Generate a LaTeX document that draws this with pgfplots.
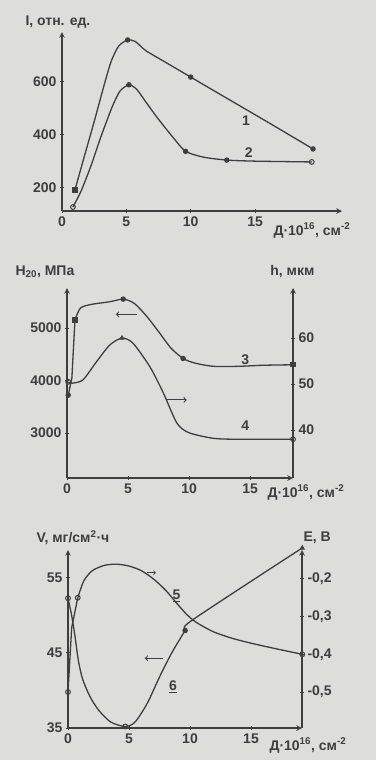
\documentclass[border=0pt]{standalone}
\usepackage{fontspec}
\setmainfont{Liberation Sans}
\usepackage{pgfplots}
\pgfplotsset{compat=1.18}

\definecolor{bg}{RGB}{221,221,217}
\definecolor{ink}{RGB}{62,62,62}

\pgfplotsset{
  scan/.style={
    scale only axis, clip=false,
    axis line style={ink, line width=1.5pt, -},
    tick style={ink, line width=1pt}, tick align=outside, major tick length=4pt,
    ticklabel style={font=\fontsize{14}{16}\selectfont\bfseries, text=ink},
    /pgf/number format/assume math mode=true,
    /pgf/number format/use comma,
    /pgf/number format/1000 sep={},
    every axis plot/.append style={ink, line width=1.3pt},
  },
  pts/.style={only marks, mark size=2.2pt, mark options={ink, fill=ink, line width=1pt}},
  opn/.style={only marks, mark=o, mark size=2.4pt, mark options={ink, fill=bg, line width=1pt}},
}
\newcommand{\lab}{\fontsize{14}{16}\selectfont\bfseries\color{ink}}

\begin{document}
\begin{tikzpicture}
\fill[bg] (0pt,0pt) rectangle (376pt,-760pt);
\useasboundingbox (0pt,0pt) rectangle (376pt,-760pt);

% ---- panel 1: I vs D
\begin{axis}[scan, at={(62pt,-211pt)}, anchor=south west, width=280pt, height=179pt,
  xmin=0, xmax=21.75, ymin=113, ymax=788,
  axis x line=bottom, axis y line=left,
  xtick={0,5,10,15}, ytick={200,400,600}]
\addplot[smooth, tension=0.4] coordinates {(1.0,192) (1.8,330) (2.5,450) (3.2,575) (3.8,675) (4.4,735) (5.1,758) (5.7,752) (6.5,718) (8,675) (10,618) (12,561) (15,476) (17,419) (19.5,347)};
\addplot[smooth, tension=0.4] coordinates {(0.85,128) (1.5,190) (2.3,290) (3.0,390) (3.9,506) (4.5,565) (5.2,589) (5.8,572) (6.5,525) (7.4,465) (8.6,392) (9.6,338) (11,316) (12.8,305) (15,301) (19.4,298)};
\addplot[pts, mark=square*] coordinates {(1.0,192)};
\addplot[pts, mark=*] coordinates {(5.1,758) (10,618) (19.5,347) (5.2,589) (9.6,338) (12.8,305)};
\addplot[opn] coordinates {(0.85,128) (19.4,298)};
\node[font=\lab] at (axis cs:14.3,455) {1};
\node[font=\lab] at (axis cs:14.5,335) {2};
\end{axis}
\node[anchor=west, font=\lab] at (22pt,-22pt) {I, отн. ед.};
\node[anchor=base west, font=\lab] at (270pt,-235pt) {Д·10\textsuperscript{16}, см\textsuperscript{-2}};

% ---- panel 2: H (left) and h (right)
\begin{axis}[scan, at={(67pt,-478pt)}, anchor=south west, width=226pt, height=190pt,
  xmin=0, xmax=18.5, ymin=2143, ymax=5762,
  axis x line=bottom, axis y line=left,
  xtick={0,5,10,15}, ytick={3000,4000,5000}]
\addplot[sharp plot] coordinates {(0.1,3720) (0.4,4050) (0.65,5150)};
\addplot[smooth, tension=0.45] coordinates {(0.65,5150) (1.1,5380) (2,5450) (3.5,5500) (4.6,5550) (5.5,5470) (6.5,5230) (7.5,4930) (8.5,4620) (9.5,4420) (10.5,4330) (12,4270) (14,4270) (16,4290) (18.5,4300)};
\addplot[pts, mark=*] coordinates {(0.1,3720) (4.6,5550) (9.5,4420)};
\addplot[pts, mark=square*] coordinates {(0.65,5150) (18.5,4300)};
\node[font=\lab] at (axis cs:14.6,4400) {3};
\draw[ink, line width=1.1pt, ->] (axis cs:5.7,5260) -- (axis cs:4.0,5260);
\draw[ink, line width=1.1pt, ->] (axis cs:8.1,3630) -- (axis cs:9.8,3630);
\end{axis}
\begin{axis}[scan, at={(67pt,-478pt)}, anchor=south west, width=226pt, height=190pt,
  xmin=0, xmax=18.5, ymin=29.57, ymax=70.9,
  axis x line=none, axis y line=right,
  xtick=\empty, ytick={40,50,60}]
\addplot[smooth, tension=0.45] coordinates {(0,50.5) (0.4,50.2) (1.3,50.9) (2.4,54.8) (3.5,58.5) (4.5,60) (5.4,58.9) (6.8,53.7) (7.9,48) (9,41.5) (10,39.4) (12,38.2) (14,38) (18.5,38)};
\addplot[opn] coordinates {(0.1,50.5) (18.5,38)};
\addplot[pts, mark=triangle*] coordinates {(4.5,60)};
\node[font=\lab] at (axis cs:14.6,41) {4};
\end{axis}
\node[anchor=west, font=\lab] at (12pt,-272pt) {H\textsubscript{20}, МПа};
\node[anchor=east, font=\lab] at (318pt,-272pt) {h, мкм};
\node[anchor=base west, font=\lab] at (264pt,-497pt) {Д·10\textsuperscript{16}, см\textsuperscript{-2}};

% ---- panel 3: V (left) and E (right)
\begin{axis}[scan, at={(68pt,-728pt)}, anchor=south west, width=234pt, height=178pt,
  xmin=0, xmax=19.18, ymin=35, ymax=58.73,
  axis x line=bottom, axis y line=left,
  xtick={0,5,10,15}, ytick={35,45,55}]
\addplot[smooth, tension=0.45] coordinates {(0,52.3) (0.3,50) (0.55,47.5) (0.85,44) (1.2,41.5) (1.8,39.2) (2.5,37.4) (3.5,35.8) (4.7,35.2) (5.5,35.8) (6.5,38.3) (7.5,41.8) (8.5,45) (9.6,48) (10.2,49.4) (19.2,59)};
\addplot[opn] coordinates {(0,52.3) (4.7,35.2)};
\addplot[pts, mark=*] coordinates {(9.6,48)};
\addplot[pts, mark=triangle*] coordinates {(19.2,59)};
\node[font=\lab] at (axis cs:8.6,40.5) {\underline{6}};
\node[font=\lab] at (axis cs:8.9,52.6) {\underline{5}};
\draw[ink, line width=1.1pt, ->] (axis cs:7.8,44.3) -- (axis cs:6.3,44.3);
\draw[ink, line width=0.8pt, ->] (axis cs:6.5,55.7) -- (axis cs:7.2,55.7);
\end{axis}
\begin{axis}[scan, at={(68pt,-728pt)}, anchor=south west, width=234pt, height=178pt,
  xmin=0, xmax=19.18, ymin=-0.5955, ymax=-0.1234,
  axis x line=none, axis y line=right,
  xtick=\empty, ytick={-0.5,-0.4,-0.3,-0.2},
  yticklabel style={/pgf/number format/fixed, /pgf/number format/precision=1, /pgf/number format/fixed zerofill}]
\addplot[sharp plot] coordinates {(0,-0.50) (0.3,-0.33) (0.8,-0.25)};
\addplot[smooth, tension=0.45] coordinates {(0.8,-0.25) (1.3,-0.205) (2,-0.178) (3,-0.164) (4,-0.161) (5,-0.166) (6,-0.178) (7,-0.2) (8,-0.23) (9,-0.268) (9.75,-0.295) (10.5,-0.315) (11.9,-0.34) (13.5,-0.358) (15.2,-0.372) (17,-0.385) (19.2,-0.40)};
\addplot[opn] coordinates {(0,-0.50) (0.8,-0.25) (19.2,-0.40)};
\end{axis}
\node[anchor=west, font=\lab] at (33pt,-538pt) {V, мг/см\textsuperscript{2}·ч};
\node[anchor=west, font=\lab] at (300pt,-538pt) {E, В};
\node[anchor=base west, font=\lab] at (266pt,-750pt) {Д·10\textsuperscript{16}, см\textsuperscript{-2}};
\end{tikzpicture}
\end{document}
